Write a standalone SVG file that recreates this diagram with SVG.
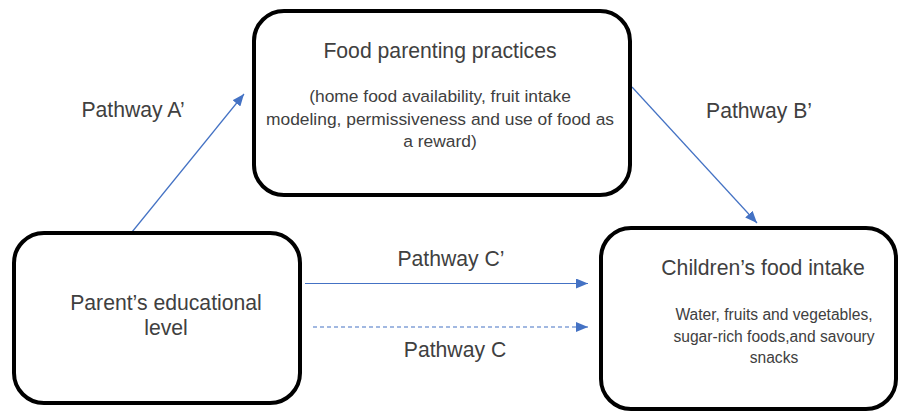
<svg xmlns="http://www.w3.org/2000/svg" width="899" height="412" viewBox="0 0 899 412">
<style>
.box{fill:#fff;stroke:#000;stroke-width:4}
.t{font-family:"Liberation Sans",Arial,sans-serif;fill:#404040;text-anchor:middle}
.h{font-size:21.2px}
.s{font-size:17.4px}
.s2{font-size:15.6px}
.c{stroke:#4472C4;stroke-width:1.2;fill:none}
</style>
<defs>
<marker id="ah" viewBox="0 0 12 10" refX="12" refY="5" markerWidth="12" markerHeight="10" markerUnits="userSpaceOnUse" orient="auto">
<path d="M0,0 L12,5 L0,10 z" fill="#4472C4"/>
</marker>
</defs>
<rect width="899" height="412" fill="#fff"/>
<g id="connectors">
<line class="c" x1="132" y1="232" x2="244" y2="94" marker-end="url(#ah)"/>
<line class="c" x1="632" y1="87" x2="757" y2="223" marker-end="url(#ah)"/>
<line class="c" x1="305" y1="283.5" x2="588" y2="283.5" marker-end="url(#ah)"/>
<line class="c" x1="313" y1="327" x2="588" y2="327" stroke-dasharray="4,3" marker-end="url(#ah)"/>
<text class="t h" x="133" y="117">Pathway A’</text>
<text class="t h" x="759" y="118">Pathway B’</text>
<text class="t h" x="451" y="266">Pathway C’</text>
<text class="t h" x="455" y="357">Pathway C</text>
</g>
<g id="node-fpp">
<rect class="box" x="254" y="11" width="376" height="184" rx="30"/>
<text class="t h" x="440" y="58">Food parenting practices</text>
<text class="t s" x="440" y="102">(home food availability, fruit intake</text>
<text class="t s" x="440" y="125">modeling, permissiveness and use of food as</text>
<text class="t s" x="440" y="147">a reward)</text>
</g>
<g id="node-parent">
<rect class="box" x="14" y="233" width="286" height="170" rx="30"/>
<text class="t h" x="166" y="310">Parent’s educational</text>
<text class="t h" x="166" y="335">level</text>
</g>
<g id="node-children">
<rect class="box" x="601" y="228" width="295" height="181" rx="30"/>
<text class="t h" x="763" y="275">Children’s food intake</text>
<text class="t s2" x="774" y="320">Water, fruits and vegetables,</text>
<text class="t s2" x="774" y="342">sugar-rich foods,and savoury</text>
<text class="t s2" x="774" y="363">snacks</text>
</g>
</svg>
